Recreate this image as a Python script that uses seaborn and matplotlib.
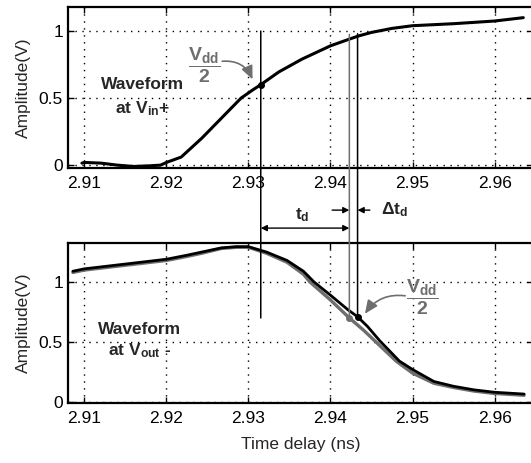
import numpy as np
import pandas as pd
import matplotlib
matplotlib.use("Agg")
import matplotlib.pyplot as plt
from matplotlib.patches import ConnectionPatch
import seaborn as sns

# dados
t_in = [2.9097, 2.91, 2.912, 2.914, 2.916, 2.918, 2.9193, 2.92, 2.9218, 2.9243,
        2.9267, 2.9291, 2.9305, 2.9315, 2.9337, 2.9365, 2.94, 2.9423, 2.9435,
        2.945, 2.9475, 2.95, 2.955, 2.96, 2.9635]
v_in = [0.015, 0.02, 0.015, 0.0, -0.01, -0.005, 0.0, 0.02, 0.06, 0.20,
        0.35, 0.50, 0.56, 0.60, 0.695, 0.79, 0.89, 0.94, 0.965,
        0.99, 1.02, 1.04, 1.055, 1.075, 1.10]

t_out_ref = [2.9086, 2.91, 2.915, 2.92, 2.9226, 2.9243, 2.9267, 2.9285, 2.93,
             2.9322, 2.9347, 2.9367, 2.9375, 2.94, 2.9423, 2.944, 2.946, 2.948,
             2.95, 2.9526, 2.955, 2.9575, 2.96, 2.9636]
v_out_ref = [1.08, 1.10, 1.14, 1.18, 1.215, 1.24, 1.28, 1.29, 1.29,
             1.24, 1.165, 1.065, 1.0, 0.85, 0.70, 0.60, 0.47, 0.34,
             0.24, 0.155, 0.12, 0.09, 0.07, 0.055]

t_out = [2.9086, 2.91, 2.915, 2.92, 2.9226, 2.9243, 2.9267, 2.9285, 2.93,
         2.9322, 2.9347, 2.9367, 2.938, 2.94, 2.9421, 2.9433, 2.9445, 2.946,
         2.9484, 2.95, 2.9526, 2.955, 2.9575, 2.96, 2.9636]
v_out = [1.09, 1.11, 1.15, 1.19, 1.225, 1.25, 1.285, 1.295, 1.295,
         1.25, 1.18, 1.09, 1.0, 0.89, 0.77, 0.71, 0.63, 0.51,
         0.34, 0.27, 0.17, 0.13, 0.10, 0.08, 0.065]

# pontos de Vdd/2
t_half_in, v_half_in = 2.9315, 0.60
t_half_ref, v_half_ref = 2.9423, 0.70
t_half_out, v_half_out = 2.9433, 0.71

x_ticks = [2.91, 2.92, 2.93, 2.94, 2.95, 2.96]
y_ticks = [0, 0.5, 1]
y_tick_labels = ["0", "0.5", "1"]

sns.set_theme(style="ticks")
plt.rcParams['font.family'] = ['Liberation Sans', 'DejaVu Sans']
plt.rcParams['mathtext.fontset'] = 'custom'
plt.rcParams['mathtext.rm'] = 'Liberation Sans'
plt.rcParams['mathtext.bf'] = 'Liberation Sans:bold'
plt.rcParams['mathtext.it'] = 'Liberation Sans:italic'
plt.rcParams['mathtext.default'] = 'bf'

GRAY = "#6e6e6e"
FS = 12.5

fig = plt.figure(figsize=(5.31, 4.63), dpi=100)
ax1 = fig.add_axes([0.128, 0.637, 0.876, 0.348])
ax2 = fig.add_axes([0.128, 0.130, 0.876, 0.345])

df_in = pd.DataFrame({"t": t_in, "v": v_in})
df_ref = pd.DataFrame({"t": t_out_ref, "v": v_out_ref})
df_out = pd.DataFrame({"t": t_out, "v": v_out})

sns.lineplot(data=df_in, x="t", y="v", ax=ax1, color="black", lw=2.2,
             sort=False, estimator=None)
sns.lineplot(data=df_ref, x="t", y="v", ax=ax2, color=GRAY, lw=2.4,
             sort=False, estimator=None)
sns.lineplot(data=df_out, x="t", y="v", ax=ax2, color="black", lw=2.0,
             sort=False, estimator=None)

ax1.set_ylim(-0.022, 1.18)
ax2.set_ylim(-0.008, 1.325)

for ax in (ax1, ax2):
    ax.set_xlim(2.908, 2.9647)
    ax.set_xticks(x_ticks)
    ax.set_xticklabels([f"{x:.2f}" for x in x_ticks])
    ax.set_yticks(y_ticks)
    ax.set_yticklabels(y_tick_labels)
    ax.tick_params(axis="x", pad=6)
    ax.tick_params(direction="in", length=4, width=1, labelsize=FS,
                   top=True, right=True, colors="black")
    ax.grid(True, ls=(0, (1, 4)), color="black", lw=1.0)
    ax.set_ylabel("Amplitude(V)", fontsize=FS, labelpad=6)
    ax.set_xlabel("")
    for s in ax.spines.values():
        s.set_linewidth(1.6)
        s.set_color("black")

ax2.set_xlabel("Time delay (ns)", fontsize=FS, labelpad=8)

# marcadores Vdd/2
ax1.plot([t_half_in], [v_half_in], "o", color="black", ms=4)
ax2.plot([t_half_ref], [v_half_ref], "o", color=GRAY, ms=4)
ax2.plot([t_half_out], [v_half_out], "o", color="black", ms=4)

# linhas verticais ligando os dois graficos
for t, y_top, y_bot, col in [(t_half_in, 1.0, 0.70, "black"),
                             (t_half_ref, 0.975, v_half_ref, GRAY),
                             (t_half_out, 0.98, v_half_out, "black")]:
    con = ConnectionPatch(xyA=(t, y_top), coordsA=ax1.transData,
                          xyB=(t, y_bot), coordsB=ax2.transData,
                          color=col, lw=1.1)
    fig.add_artist(con)

# setas t_d e delta t_d
ax2.annotate("", xy=(t_half_in, 1.45), xytext=(t_half_ref, 1.45),
             arrowprops=dict(arrowstyle="<|-|>", color="black", lw=1.0,
                             mutation_scale=9, shrinkA=0, shrinkB=0),
             annotation_clip=False)
ax2.text(2.9365, 1.56, r"t$_d$", ha="center", va="center",
         fontsize=FS, fontweight="bold", clip_on=False)
ax2.annotate("", xy=(t_half_ref, 1.6), xytext=(2.9402, 1.6),
             arrowprops=dict(arrowstyle="-|>", color="black", lw=1.0,
                             mutation_scale=9, shrinkA=0, shrinkB=0),
             annotation_clip=False)
ax2.annotate("", xy=(t_half_out, 1.6), xytext=(2.9448, 1.6),
             arrowprops=dict(arrowstyle="-|>", color="black", lw=1.0,
                             mutation_scale=9, shrinkA=0, shrinkB=0),
             annotation_clip=False)
ax2.text(2.9461, 1.6, "Δt$_d$", ha="left", va="center", fontsize=FS,
         fontweight="bold", clip_on=False)

# textos Vdd/2 com seta cinza
head = "-|>,head_length=0.8,head_width=0.35"
ax1.text(2.9246, 0.74, r"$\dfrac{V_{dd}}{2}$", ha="center", va="center",
         fontsize=14, color=GRAY)
ax1.annotate("", xy=(2.9305, 0.64), xytext=(2.9268, 0.775),
             arrowprops=dict(arrowstyle=head, color=GRAY, lw=1.2,
                             mutation_scale=10, shrinkA=0, shrinkB=0,
                             connectionstyle="arc3,rad=-0.35"))
ax2.text(2.9512, 0.875, r"$\dfrac{V_{dd}}{2}$", ha="center", va="center",
         fontsize=14, color=GRAY)
ax2.annotate("", xy=(2.9442, 0.735), xytext=(2.9491, 0.885),
             arrowprops=dict(arrowstyle=head, color=GRAY, lw=1.2,
                             mutation_scale=10, shrinkA=0, shrinkB=0,
                             connectionstyle="arc3,rad=0.3"))

# rotulos das formas de onda
ax1.text(2.9171, 0.60, "Waveform", ha="center", va="center", fontsize=FS,
         fontweight="bold")
ax1.text(2.9171, 0.425, r"at V$_{in}$+", ha="center", va="center", fontsize=FS,
         fontweight="bold")
ax2.text(2.9167, 0.60, "Waveform", ha="center", va="center", fontsize=FS,
         fontweight="bold")
ax2.text(2.9167, 0.43, r"at V$_{out}$ -", ha="center", va="center", fontsize=FS,
         fontweight="bold")

fig.savefig("out.png", dpi=100)
